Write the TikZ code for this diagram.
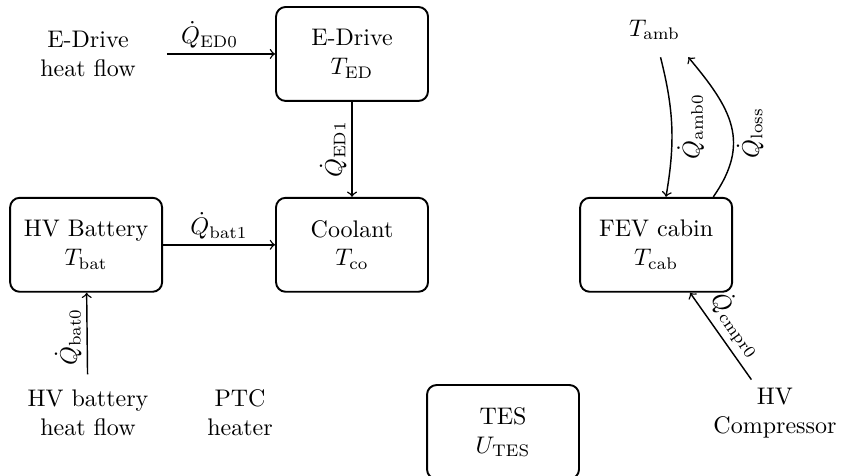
\documentclass[tikz,border=0pt]{standalone}
\usetikzlibrary{positioning}
\tikzset{
  sbox/.style = {rectangle, draw, thick, rounded corners=4pt,
                 minimum width=2.225cm, minimum height=1.376cm,
                 align=center},
  txt/.style  = {align=center},
  flow/.style = {semithick},
  lbl/.style  = {inner sep=2pt},
}
\begin{document}
\begin{tikzpicture}
  \useasboundingbox (0,0) rectangle (12.328,6.969);
  % state boxes
  \node[sbox] (ed) at (5.154,6.179) {E-Drive\\$T_{\mathrm{ED}}$};
  \node[sbox, below=1.39cm of ed] (co) {Coolant\\$T_{\mathrm{co}}$};
  \node[sbox, left=1.64cm of co]  (bat) {HV Battery\\$T_{\mathrm{bat}}$};
  \node[sbox, right=2.2cm of co]  (cab) {FEV cabin\\$T_{\mathrm{cab}}$};
  \node[sbox] (tes) at (7.365,0.644) {TES\\$U_{\mathrm{TES}}$};
  % sources
  \node[txt] (edin)  at (1.288,6.179)  {E-Drive\\heat flow};
  \node[txt] (batin) at (1.288,0.922)  {HV battery\\heat flow};
  \node[txt] (ptc)   at (3.514,0.922)  {PTC\\heater};
  \node[txt] (cmpr)  at (11.347,0.922) {HV\\Compressor};
  \node[inner ysep=7pt] (amb) at (9.583,6.530) {$T_{\mathrm{amb}}$};
  % heat flows
  \draw[flow, ->, shorten <=9.5pt] (edin) -- node[lbl, above] {$\dot{Q}_{\mathrm{ED0}}$} (ed);
  \draw[flow, <-] (co) -- node[lbl, above, rotate=90] {$\dot{Q}_{\mathrm{ED1}}$} (ed);
  \draw[flow, ->] (bat) -- node[lbl, above] {$\dot{Q}_{\mathrm{bat1}}$} (co);
  \draw[flow, ->, shorten <=3pt] (batin) -- node[lbl, above, rotate=90] {$\dot{Q}_{\mathrm{bat0}}$} (bat);
  \draw[flow, ->] (cmpr) -- node[lbl, above, sloped] {$\dot{Q}_{\mathrm{cmpr0}}$} (cab);
  \draw[flow, <-] (cab) to[bend right=12]
        node[lbl, below, rotate=90] {$\dot{Q}_{\mathrm{amb0}}$} (amb);
  \draw[flow, ->] (cab.40) to[out=55, in=-50, looseness=1.2]
        node[lbl, below=3pt, rotate=90] {$\dot{Q}_{\mathrm{loss}}$} (amb.south east);
\end{tikzpicture}
\end{document}
